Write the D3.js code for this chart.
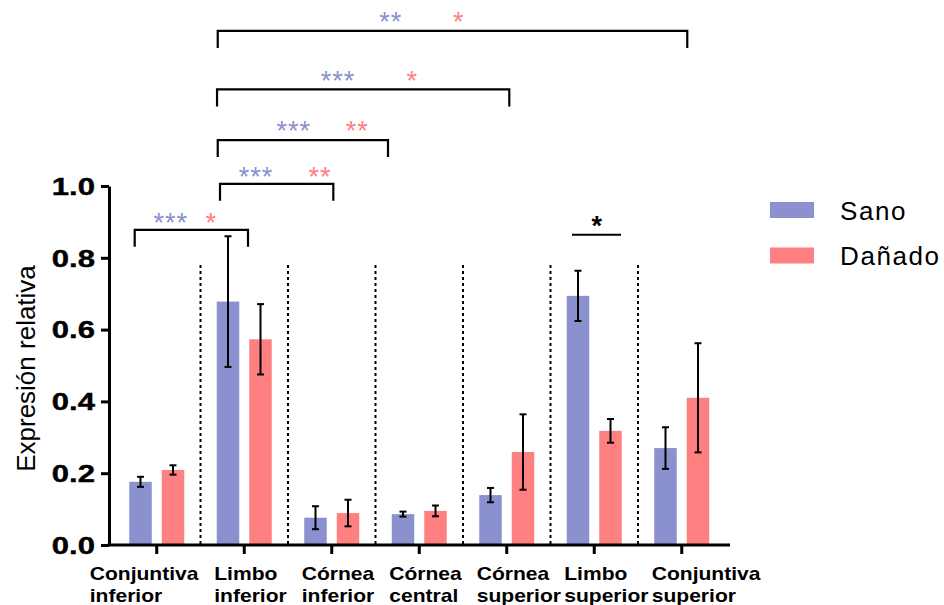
<!DOCTYPE html>
<html>
<head>
<meta charset="utf-8">
<script src="https://cdn.jsdelivr.net/npm/d3@7"></script>
<style>
  html, body { margin: 0; padding: 0; background: #fff; }
  svg { display: block; font-family: "Liberation Sans", Arial, sans-serif; }
</style>
</head>
<body>
<svg id="chart" width="944" height="605"></svg>
<script>
// ---------------- data ----------------
const categories = ["Conjuntiva inferior", "Limbo inferior", "Córnea inferior", "Córnea central",
                    "Córnea superior", "Limbo superior", "Conjuntiva superior"];
const series = ["Sano", "Dañado"];
const sanoMean   = [0.176, 0.678, 0.076, 0.086, 0.139, 0.694, 0.270];
const sanoErr    = [0.014, 0.182, 0.032, 0.007, 0.020, 0.070, 0.058];
const danadoMean = [0.209, 0.573, 0.089, 0.095, 0.259, 0.318, 0.410];
const danadoErr  = [0.013, 0.098, 0.037, 0.015, 0.105, 0.033, 0.152];
const yTicks = [0, 0.2, 0.4, 0.6, 0.8, 1.0];
const yLabel = "Expresión relativa";

// significance brackets (x in group units, y in data units)
const bracketFrom  = [0.697, 0.689, 0.697, 0.723, -0.252];
const bracketTo    = [6.063, 4.029, 2.643, 2.018, 1.043];
const bracketLevel = [1.432, 1.269, 1.128, 1.006, 0.878];
const sigSano      = ["**", "***", "***", "***", "***"];
const sigDanado    = ["*", "*", "**", "**", "*"];
const sigSanoPos   = [2.674, 2.071, 1.565, 1.134, 0.159];
const sigDanadoPos = [3.451, 2.920, 2.292, 1.866, 0.623];
const sigLevel     = [1.474, 1.310, 1.170, 1.043, 0.915];
// single comparison line within Limbo superior
const pairFrom = [4.746], pairTo = [5.306], pairLevel = [0.864], pairText = ["*"], pairTextPos = [5.035], pairTextLevel = [0.905];

// ---------------- layout ----------------
const colors = { "Sano": "#8b91ce", "Dañado": "#ff8080" };
const svg = d3.select("#chart");
const axisX0 = 109, axisX1 = 730;

const y = d3.scaleLinear().domain([0, 1]).range([545, 186]);
const x0 = d3.scaleBand().domain(categories).range([113, 725.5]).paddingInner(0.3714).paddingOuter(0.1857);
const x1 = d3.scaleBand().domain(series).range([0, x0.bandwidth()]).paddingInner(0.3077);
const xg = d3.scaleLinear().domain([-0.5, categories.length - 0.5]).range([113, 725.5]);

const rows = categories.map((c, i) => ({
  cat: c,
  vals: [
    { s: "Sano", m: sanoMean[i], e: sanoErr[i] },
    { s: "Dañado", m: danadoMean[i], e: danadoErr[i] }
  ]
}));

// dotted separators
const sepTop = 0.78;
svg.append("g").selectAll("line")
  .data(categories.slice(0, -1))
  .join("line")
  .attr("x1", (d, i) => xg(i + 0.5)).attr("x2", (d, i) => xg(i + 0.5))
  .attr("y1", y(sepTop)).attr("y2", y(0))
  .attr("stroke", "#000").attr("stroke-width", 2).attr("stroke-dasharray", "3,3");

// bars
const groups = svg.append("g").selectAll("g")
  .data(rows).join("g")
  .attr("transform", d => `translate(${x0(d.cat)},0)`);

groups.selectAll("rect")
  .data(d => d.vals).join("rect")
  .attr("x", d => x1(d.s)).attr("width", x1.bandwidth())
  .attr("y", d => y(d.m)).attr("height", d => y(0) - y(d.m))
  .attr("fill", d => colors[d.s]);

// error bars
const eb = groups.selectAll("g.eb").data(d => d.vals).join("g").attr("class", "eb")
  .attr("transform", d => `translate(${x1(d.s) + x1.bandwidth() / 2},0)`);
eb.append("line").attr("x1", 0).attr("x2", 0)
  .attr("y1", d => y(d.m + d.e)).attr("y2", d => y(d.m - d.e))
  .attr("stroke", "#000").attr("stroke-width", 2);
eb.append("line").attr("x1", -3.5).attr("x2", 3.5)
  .attr("y1", d => y(d.m + d.e)).attr("y2", d => y(d.m + d.e))
  .attr("stroke", "#000").attr("stroke-width", 2);
eb.append("line").attr("x1", -3.5).attr("x2", 3.5)
  .attr("y1", d => y(d.m - d.e)).attr("y2", d => y(d.m - d.e))
  .attr("stroke", "#000").attr("stroke-width", 2);

// y axis
const yAxis = svg.append("g").attr("transform", `translate(${axisX0},0)`)
  .call(d3.axisLeft(y).tickValues(yTicks).tickFormat(d3.format(".1f")).tickSize(8).tickSizeOuter(0));
yAxis.select(".domain").attr("stroke-width", 3);
yAxis.selectAll(".tick line").attr("stroke-width", 3);
yAxis.selectAll(".tick text")
  .attr("x", -14 / 1.35).attr("dy", "0.36em")
  .attr("transform", "scale(1.35,1)")
  .attr("font-size", 23).attr("font-weight", "bold").attr("fill", "#000")
  .attr("stroke", "#000").attr("stroke-width", 0.4)
  .attr("font-family", "Liberation Sans, Arial, sans-serif");

// x axis
const xAxis = svg.append("g").attr("transform", `translate(0,${y(0)})`)
  .call(d3.axisBottom(x0).tickSize(9).tickFormat(""));
xAxis.select(".domain").remove();
xAxis.selectAll(".tick line").attr("stroke-width", 3);
svg.append("line").attr("x1", axisX0 - 1.5).attr("x2", axisX1).attr("y1", y(0)).attr("y2", y(0))
  .attr("stroke", "#000").attr("stroke-width", 3);

// x labels (two lines, left-aligned)
const xl = svg.append("g").selectAll("text").data(categories).join("text")
  .attr("transform", (d, i) => {
    const cx = x0(d) + x0.bandwidth() / 2;
    const dx = i === 0 ? -67 : -30;
    return `translate(${cx + dx},0) scale(1.17,1)`;
  })
  .attr("font-size", 18).attr("font-weight", "bold").attr("fill", "#000")
  .attr("font-family", "Liberation Sans, Arial, sans-serif");
xl.selectAll("tspan").data(d => d.split(" ")).join("tspan")
  .attr("x", (d, j, n) => 0).attr("y", (d, j) => 580 + j * 22).text(d => d);

// y label
svg.append("text")
  .attr("transform", `translate(35,${(y(0) + y(1)) / 2 + 3}) rotate(-90)`)
  .attr("text-anchor", "middle").attr("font-size", 26).attr("fill", "#000")
  .attr("font-family", "Liberation Sans, Arial, sans-serif")
  .text(yLabel);

// brackets
const drop = 17;
svg.append("g").selectAll("path").data(bracketFrom).join("path")
  .attr("d", (d, i) => {
    const a = xg(bracketFrom[i]), b = xg(bracketTo[i]), yy = y(bracketLevel[i]);
    return `M${a},${yy + drop}V${yy}H${b}V${yy + drop}`;
  })
  .attr("fill", "none").attr("stroke", "#000").attr("stroke-width", 2.2);

const starFont = 27;
function stars(sel, texts, pos, levels, color, weight) {
  sel.selectAll(null).data(texts).join("text")
    .attr("x", (d, i) => xg(pos[i])).attr("y", (d, i) => y(levels[i]) + starFont * 0.56)
    .attr("text-anchor", "middle").attr("font-size", starFont).attr("letter-spacing", 1)
    .attr("font-weight", weight).attr("fill", color)
    .attr("font-family", "Liberation Sans, Arial, sans-serif")
    .text(d => d);
}
const sg = svg.append("g");
stars(sg, sigSano, sigSanoPos, sigLevel, colors["Sano"], "normal");
stars(sg, sigDanado, sigDanadoPos, sigLevel, colors["Dañado"], "normal");

// pair comparison
svg.append("g").selectAll("line").data(pairFrom).join("line")
  .attr("x1", (d, i) => xg(pairFrom[i])).attr("x2", (d, i) => xg(pairTo[i]))
  .attr("y1", (d, i) => y(pairLevel[i])).attr("y2", (d, i) => y(pairLevel[i]))
  .attr("stroke", "#000").attr("stroke-width", 2);
stars(svg.append("g"), pairText, pairTextPos, pairTextLevel, "#000", "bold");

// legend
const lg = svg.append("g").selectAll("g").data(series).join("g")
  .attr("transform", (d, i) => `translate(770,${202 + i * 45.5})`);
lg.append("rect").attr("width", 44).attr("height", 16).attr("fill", d => colors[d]);
lg.append("text").attr("x", 70).attr("y", 17.5)
  .attr("font-size", 26).attr("letter-spacing", 1.6).attr("fill", "#000")
  .attr("font-family", "Liberation Sans, Arial, sans-serif")
  .text(d => d);
</script>
</body>
</html>
